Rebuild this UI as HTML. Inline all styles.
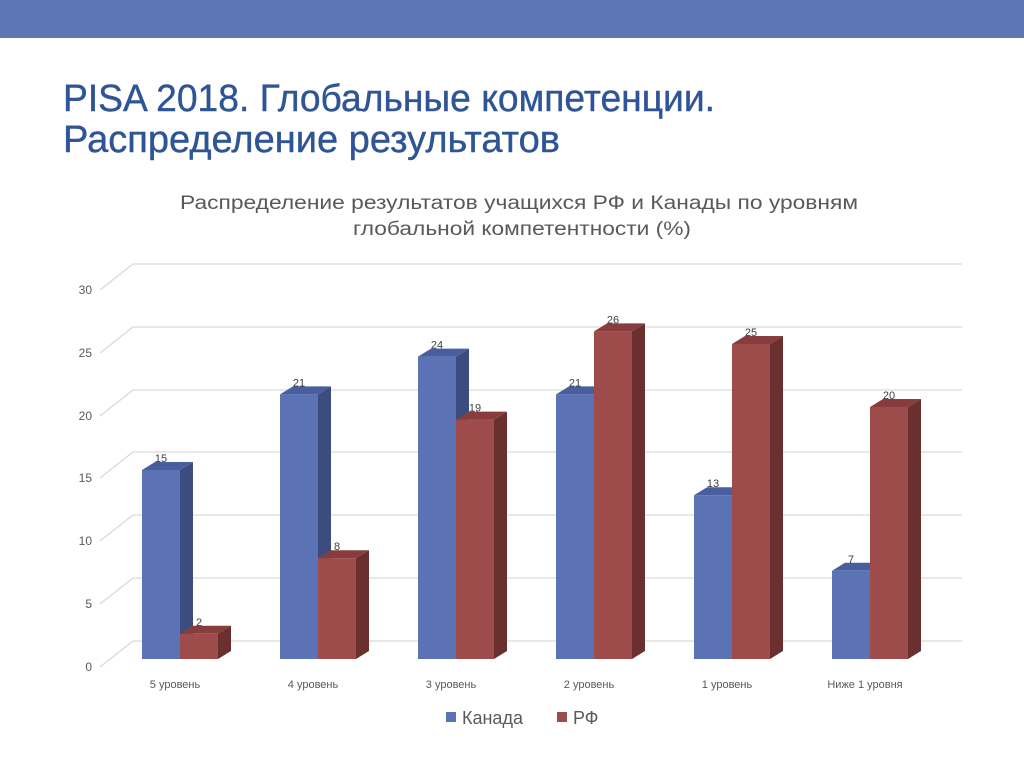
<!DOCTYPE html>
<html><head><meta charset="utf-8"><style>
body{margin:0;width:1024px;height:767px;background:#fff;overflow:hidden;font-family:"Liberation Sans",sans-serif}
</style></head><body>
<svg width="1024" height="767" viewBox="0 0 1024 767" xmlns="http://www.w3.org/2000/svg" font-family="Liberation Sans, sans-serif">
<rect x="0" y="0" width="1024" height="38" fill="#5d77b5"/>
<text x="63" y="111" font-size="38" fill="#2f5597" stroke="#2f5597" stroke-width="0.4" textLength="652" lengthAdjust="spacingAndGlyphs">PISA 2018. Глобальные компетенции.</text>
<text x="63" y="152" font-size="38" fill="#2f5597" stroke="#2f5597" stroke-width="0.4" textLength="497" lengthAdjust="spacingAndGlyphs">Распределение результатов</text>
<text x="180" y="209" font-size="19" fill="#595959" textLength="678" lengthAdjust="spacingAndGlyphs">Распределение результатов  учащихся РФ и Канады по уровням</text>
<text x="353" y="235" font-size="19" fill="#595959" textLength="338" lengthAdjust="spacingAndGlyphs">глобальной компетентности (%)</text>
<g stroke="#d9d9d9" stroke-width="1.3" fill="none">
<path d="M133 641H962M100 667L133 641"/>
<path d="M133 578H962M100 604L133 578"/>
<path d="M133 515H962M100 541L133 515"/>
<path d="M133 452H962M100 478L133 452"/>
<path d="M133 390H962M100 416L133 390"/>
<path d="M133 327H962M100 353L133 327"/>
<path d="M133 264H962M100 290L133 264"/>
</g>
<g font-size="12" fill="#595959" text-anchor="end">
<text x="92" y="671">0</text><text x="92" y="608">5</text><text x="92" y="545">10</text><text x="92" y="482">15</text><text x="92" y="420">20</text><text x="92" y="357">25</text><text x="92" y="294">30</text>
</g>
<g font-size="11" fill="#595959" text-anchor="middle">
<text x="175" y="688">5 уровень</text><text x="313" y="688">4 уровень</text><text x="451" y="688">3 уровень</text><text x="589" y="688">2 уровень</text><text x="727" y="688">1 уровень</text><text x="865" y="688">Ниже 1 уровня</text>
</g>
<rect x="446" y="712" width="10" height="10" fill="#5b73b5"/>
<text x="462" y="724" font-size="18" fill="#595959">Канада</text>
<rect x="557" y="712" width="10" height="10" fill="#9e4b4b"/>
<text x="573" y="724" font-size="18" fill="#595959">РФ</text>
<g id="b"></g>
</svg>
<script>
var C=[15,21,24,21,13,7],R=[2,8,19,26,25,20];
var g=document.getElementById('b'),s='';
function bar(x,v,f,t,sd){var y=659-v*12.6;
s+='<polygon points="'+(x+38)+','+y+' '+(x+51)+','+(y-8)+' '+(x+51)+',651 '+(x+38)+',659" fill="'+sd+'"/>';
s+='<polygon points="'+x+','+y+' '+(x+13)+','+(y-8)+' '+(x+51)+','+(y-8)+' '+(x+38)+','+y+'" fill="'+t+'"/>';
s+='<rect x="'+x+'" y="'+y+'" width="38" height="'+(659-y)+'" fill="'+f+'"/>';
s+='<text x="'+(x+19)+'" y="'+(y-8)+'" font-size="11" fill="#404040" text-anchor="middle">'+v+'</text>';}
for(var i=0;i<6;i++){var c=180+138*i;bar(c-38,C[i],'#5b73b5','#485e9e','#3d4c7e');bar(c,R[i],'#9e4b4b','#873d3d','#6a3030');}
g.innerHTML=s;
</script>
</body></html>
